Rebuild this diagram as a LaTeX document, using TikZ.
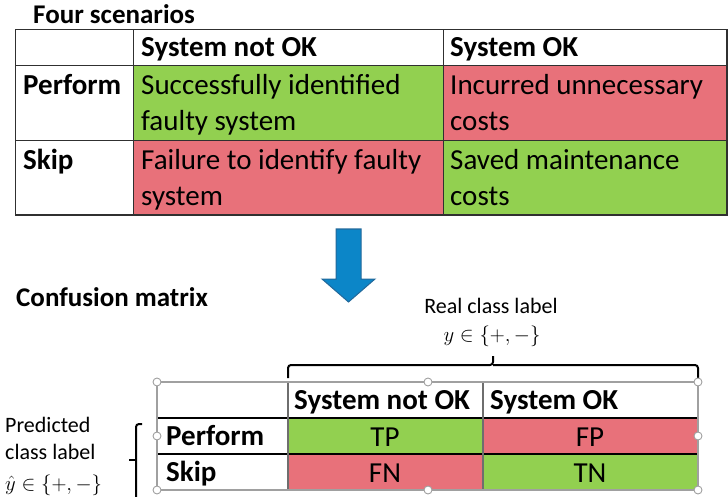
\documentclass[tikz,border=0pt]{standalone}
\usepackage{fontspec}
\setmainfont{Carlito}
\definecolor{okgreen}{HTML}{92D050}
\definecolor{badred}{HTML}{E8717A}
\definecolor{arrowblue}{HTML}{0C86C8}
\definecolor{arrowedge}{HTML}{22689A}
\definecolor{gridline}{HTML}{303030}
\definecolor{selframe}{HTML}{A0A0A0}
\begin{document}
\begin{tikzpicture}[x=1pt,y=-1pt,
  body/.style={anchor=base west, inner sep=0pt, font=\fontsize{29}{34}\selectfont},
  bodyc/.style={body, anchor=base},
  head/.style={body, font=\fontsize{29}{34}\selectfont\bfseries},
  title/.style={anchor=base west, inner sep=0pt, font=\fontsize{27}{31}\selectfont\bfseries},
  small/.style={anchor=base west, inner sep=0pt, font=\fontsize{22}{26}\selectfont},
  mathlbl/.style={anchor=base west, inner sep=0pt, font=\fontsize{22}{26}\selectfont},
  grid/.style={draw=gridline, line width=1.2pt},
  brace/.style={draw=black, line width=2pt, rounded corners=3pt},
  handle/.style={circle, draw=selframe, fill=white, line width=0.9pt, minimum size=8pt, inner sep=0pt},
]
\useasboundingbox (0,0) rectangle (728,497);

% ---------- Four scenarios ----------
\node[title] (t1) at (33,24) {Four scenarios};

\fill[okgreen] (133.5,65.5) rectangle (443.5,140.5);
\fill[badred]  (443.5,65.5) rectangle (727,140.5);
\fill[badred]  (133.5,140.5) rectangle (443.5,215);
\fill[okgreen] (443.5,140.5) rectangle (727,215);
\draw[grid] (15.5,29.5) rectangle (727,215);
\draw[grid] (15.5,65.5) -- (727,65.5) (15.5,140.5) -- (727,140.5);
\draw[grid] (133.5,29.5) -- (133.5,215) (443.5,29.5) -- (443.5,215);

\node[head] (h1) at (141,57) {System not OK};
\node[head] (h2) at (450,57) {System OK};
\node[head] (r1) at (23,95) {Perform};
\node[head] (r2) at (23,170) {Skip};
\node[body] (c11a) at (141,95)  {Successfully identified};
\node[body] (c11b) at (141,131) {faulty system};
\node[body] (c12a) at (450,95)  {Incurred unnecessary};
\node[body] (c12b) at (450,131) {costs};
\node[body] (c21a) at (141,170) {Failure to identify faulty};
\node[body] (c21b) at (141,206) {system};
\node[body] (c22a) at (450,170) {Saved maintenance};
\node[body] (c22b) at (450,206) {costs};

% ---------- block arrow ----------
\filldraw[fill=arrowblue, draw=arrowedge, line width=1pt]
  (336,229) -- (361,229) -- (361,279) -- (375,279) -- (348.5,302)
  -- (322,279) -- (336,279) -- cycle;

% ---------- Confusion matrix ----------
\node[title] (t2) at (16,306) {Confusion matrix};

\node[small, anchor=base] (real) at (491,313) {Real class label};
\node[mathlbl, anchor=base] (realy) at (492,341) {$y \in \{+,-\}$};

\node[small] (p1) at (5,432) {Predicted};
\node[small] (p2) at (5,459) {class label};
\node[mathlbl] (p3) at (5,490) {$\hat{y} \in \{+,-\}$};

% top brace over the real-class columns
\coordinate (bl) at (288,378);
\coordinate (br) at (698,378);
\coordinate (bm) at (493,356);
\draw[brace] (bl) -- (288,365) -- (493,365) -- (bm);
\draw[brace] (br) -- (698,365) -- (493,365);

% left brace beside the predicted rows
\coordinate (lt) at (142,424);
\coordinate (lb) at (142,505);
\coordinate (lm) at (129,460);
\draw[brace] (lt) -- (136,424) -- (136,505) -- (lb);
\draw[brace, rounded corners=0pt] (136,460) -- (lm);

% matrix cells
\fill[okgreen] (288,418) rectangle (483,454);
\fill[badred]  (483,418) rectangle (698,454);
\fill[badred]  (288,454) rectangle (483,490);
\fill[okgreen] (483,454) rectangle (698,490);
\draw[black, line width=1.1pt] (157,382) -- (698,382) (157,418) -- (698,418)
  (157,454) -- (698,454) (157,490) -- (698,490);
\draw[gridline!70, line width=1.1pt] (288,382) -- (288,490) (483,382) -- (483,490);

\node[head] (m1) at (294,409) {System not OK};
\node[head] (m2) at (490,409) {System OK};
\node[head] (m3) at (166,445) {Perform};
\node[head] (m4) at (166,481) {Skip};
\node[bodyc] (tp) at (385,446) {TP};
\node[bodyc] (fp) at (590,446) {FP};
\node[bodyc] (fn) at (385,482) {FN};
\node[bodyc] (tn) at (590,482) {TN};

% selection frame with handles
\draw[selframe, line width=1.2pt] (157,382) rectangle (698,490);
\foreach \n/\p in {s1/{(157,382)}, s2/{(428,382)}, s3/{(698,382)}, s4/{(698,436)},
                   s5/{(698,490)}, s6/{(428,490)}, s7/{(157,490)}, s8/{(157,436)}}
  \node[handle] (\n) at \p {};
\end{tikzpicture}
\end{document}
